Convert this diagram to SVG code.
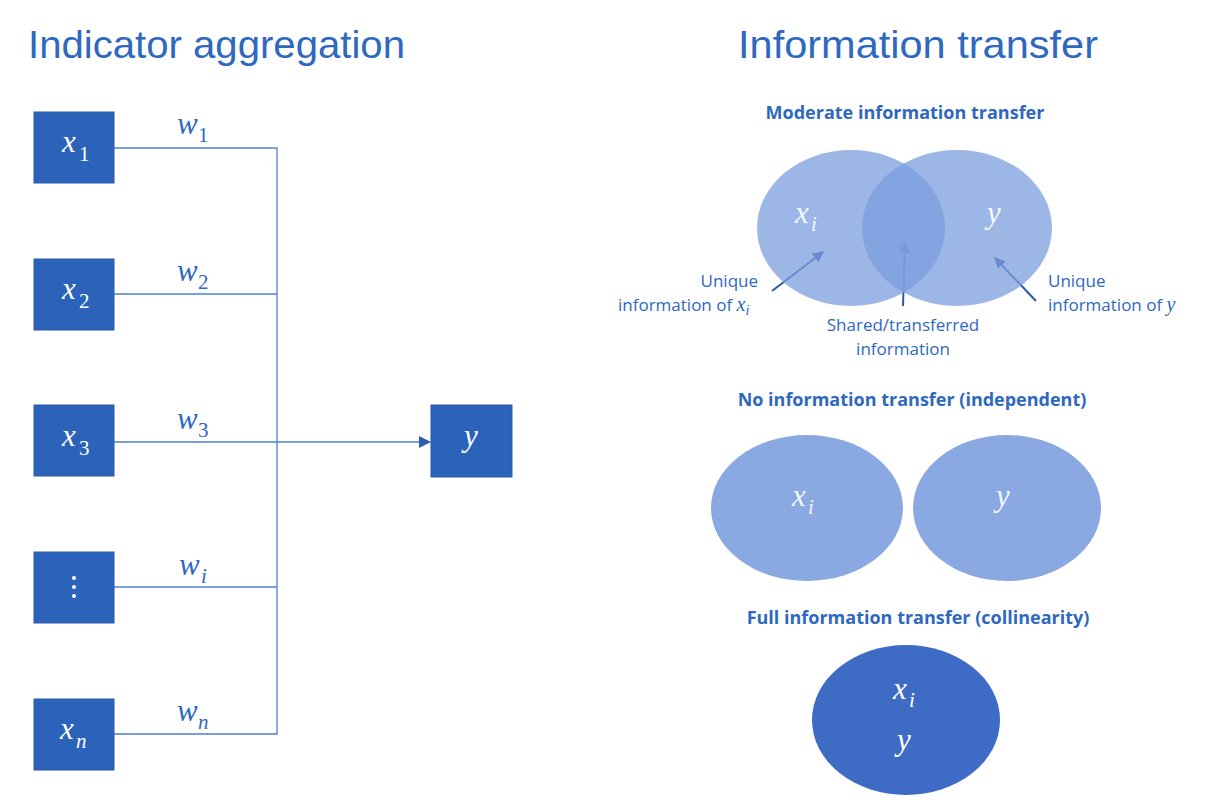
<svg xmlns="http://www.w3.org/2000/svg" width="1206" height="807" viewBox="0 0 1206 807">
<defs>
<style>
.title{font-family:"Liberation Sans",Arial,sans-serif;font-size:39px;fill:#2e68bf}
.sub{font-family:"Open Sans","Liberation Sans",sans-serif;font-weight:bold;font-size:18px;fill:#2e68bf;text-anchor:middle}
.lbl{font-family:"Open Sans","Liberation Sans",sans-serif;font-size:17px;fill:#2e68bf}
.box{fill:#2a63b9;stroke:#2b5aa6;stroke-width:1}
.m{font-family:"Liberation Serif","DejaVu Serif",serif;font-style:italic;font-size:31px}
.ms{font-family:"Liberation Serif","DejaVu Serif",serif;font-style:italic;font-size:21px}
.d{font-family:"Liberation Serif","DejaVu Serif",serif;font-size:21px}
.w{fill:#ffffff}
.b{fill:#2e68bf}
.ln{stroke:#5080d0;stroke-width:1.3;fill:none}
.ar{stroke:#2b5aa8;stroke-width:2;fill:none}
</style>
<marker id="ah" viewBox="0 0 10 10" refX="9" refY="5" markerWidth="11" markerHeight="11" orient="auto" markerUnits="userSpaceOnUse">
<path d="M0,0 L10,5 L0,10 z" fill="#2b5aa8"/>
</marker>
</defs>
<rect width="1206" height="807" fill="#ffffff"/>

<text class="title" x="28" y="58" textLength="377" lengthAdjust="spacingAndGlyphs">Indicator aggregation</text>
<text class="title" x="738" y="58" textLength="360" lengthAdjust="spacingAndGlyphs">Information transfer</text>

<g id="connectors">
<polyline class="ln" points="114,148 277,148 277,734 114,734"/>
<line class="ln" x1="114" y1="294" x2="277" y2="294"/>
<line class="ln" x1="114" y1="587" x2="277" y2="587"/>
<line class="ln" x1="114" y1="442" x2="420" y2="442" stroke="#3a6cc4" stroke-width="1.6"/>
<path d="M419,436 L431,442 L419,448 z" fill="#2e5fae"/>
<line class="ar" x1="772" y1="291" x2="823" y2="252" marker-end="url(#ah)"/>
<line class="ar" x1="903" y1="306" x2="905" y2="243" marker-end="url(#ah)"/>
<line class="ar" x1="1036" y1="301" x2="995" y2="258" marker-end="url(#ah)"/>
</g>

<g id="w-labels">
<text class="m b" x="177" y="134">w</text><text class="d b" x="198" y="142">1</text>
<text class="m b" x="177" y="281">w</text><text class="d b" x="198" y="289">2</text>
<text class="m b" x="177" y="429">w</text><text class="d b" x="198" y="437">3</text>
<text class="m b" x="179" y="575">w</text><text class="ms b" x="201" y="583">i</text>
<text class="m b" x="177" y="721">w</text><text class="ms b" x="198" y="729">n</text>
</g>

<g id="x1"><rect class="box" x="34" y="112" width="80" height="71"/><text class="m w" x="62" y="152">x</text><text class="d w" x="79" y="161">1</text></g>
<g id="x2"><rect class="box" x="34" y="259" width="80" height="71"/><text class="m w" x="62" y="299">x</text><text class="d w" x="79" y="308">2</text></g>
<g id="x3"><rect class="box" x="34" y="405" width="80" height="71"/><text class="m w" x="62" y="446">x</text><text class="d w" x="79" y="455">3</text></g>
<g id="xdots"><rect class="box" x="34" y="552" width="80" height="71"/><circle cx="74" cy="578" r="2" fill="#fff"/><circle cx="74" cy="587" r="2" fill="#fff"/><circle cx="74" cy="596" r="2" fill="#fff"/></g>
<g id="xn"><rect class="box" x="34" y="699" width="80" height="71"/><text class="m w" x="60" y="739">x</text><text class="ms w" x="76" y="748">n</text></g>
<g id="y"><rect class="box" x="431" y="405" width="81" height="72"/><text class="m w" x="464" y="446">y</text></g>

<g id="moderate">
<text class="sub" x="905" y="119">Moderate information transfer</text>
<ellipse cx="851" cy="228" rx="94" ry="78" fill="#7b9ede" opacity="0.75"/>
<ellipse cx="957" cy="228" rx="95" ry="78" fill="#7b9ede" opacity="0.75"/>
<text class="m w" x="795" y="223" opacity="0.9">x</text><text class="ms w" x="811" y="231" opacity="0.9">i</text>
<text class="m w" x="987" y="223" opacity="0.9">y</text>
<text class="lbl" x="758" y="287" text-anchor="end">Unique</text>
<text class="lbl" x="618" y="311">information of <tspan font-family="Liberation Serif,serif" font-style="italic" font-size="20">x</tspan><tspan font-family="Liberation Serif,serif" font-style="italic" font-size="14" dy="4">i</tspan></text>
<text class="lbl" x="1048" y="287">Unique</text>
<text class="lbl" x="1048" y="311">information of <tspan font-family="Liberation Serif,serif" font-style="italic" font-size="20">y</tspan></text>
<text class="lbl" x="903" y="331" text-anchor="middle" font-size="17.5">Shared/transferred</text>
<text class="lbl" x="903" y="355" text-anchor="middle" font-size="17.5">information</text>
</g>

<g id="independent">
<text class="sub" x="912" y="406">No information transfer (independent)</text>
<ellipse cx="807" cy="508" rx="96" ry="73" fill="#8aa8e2"/>
<ellipse cx="1007" cy="508" rx="94" ry="73" fill="#8aa8e2"/>
<text class="m w" x="792" y="506" opacity="0.9">x</text><text class="ms w" x="808" y="514" opacity="0.9">i</text>
<text class="m w" x="996" y="506" opacity="0.9">y</text>
</g>

<g id="full">
<text class="sub" x="918" y="624">Full information transfer (collinearity)</text>
<ellipse cx="906" cy="720" rx="94" ry="75" fill="#3e6cc4"/>
<text class="m w" x="893" y="699">x</text><text class="ms w" x="909" y="707">i</text>
<text class="m w" x="897" y="750">y</text>
</g>
</svg>
